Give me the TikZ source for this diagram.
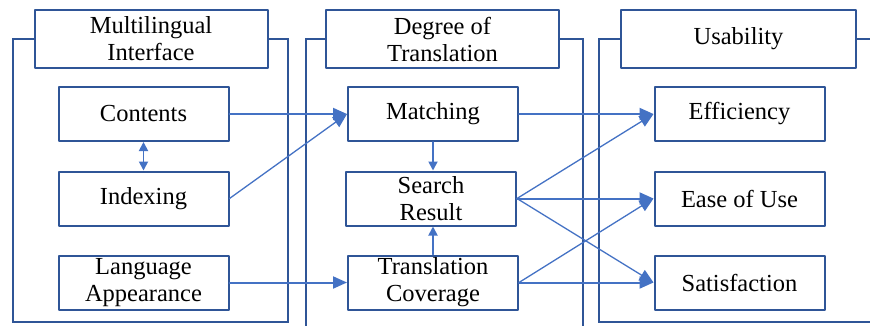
\documentclass[tikz,border=0pt]{standalone}
\usepackage{fontspec}
\setmainfont{Liberation Serif}
\usetikzlibrary{arrows.meta}
\definecolor{frameblue}{RGB}{47,85,151}
\definecolor{linkblue}{RGB}{68,114,196}

\begin{document}
\begin{tikzpicture}[line cap=round,line join=round,>={Triangle[length=14pt,width=12pt]},x=1pt,y=-1pt]
\tikzset{
  box/.style={draw=frameblue,line width=2pt,minimum width=170pt,minimum height=54pt,inner sep=0pt,align=center,font=\fontsize{24.5}{27}\selectfont},
  head/.style={box,minimum width=233pt,minimum height=58pt},
  frame/.style={draw=frameblue,line width=2pt,line cap=butt,line join=miter},
  link/.style={draw=linkblue,line width=2pt,->},
  slant/.style={link,line width=1.3pt},
  short/.style={link,line width=1.8pt,>={Triangle[length=9pt,width=9pt]}}
}
\clip (0,0) rectangle (870,325);

% group titles
\node[head] (ttlml) at (151,39) {Multilingual\\Interface};
\node[head] (ttldt) at (442.5,39) {Degree of\\Translation};
\node[head,minimum width=235pt] (ttlus) at (738.5,39) {Usability};

% group frames
\draw[frame] (ttlml.west) -- (13,39) |- (288,322) |- (ttlml.east);
\draw[frame] (ttldt.west) -- (306,39) -- (306,335);
\draw[frame] (ttldt.east) -- (583,39) -- (583,335);
\draw[frame] (ttlus.west) -- (599,39) |- (880,322);
\draw[frame] (ttlus.east) -- (880,39);

% multilingual interface
\node[box] (cont) at (143.5,114) {Contents};
\node[box] (idx) at (143.5,198.5) {Indexing};
\node[box] (lang) at (143.5,282.5) {Language\\Appearance};

% degree of translation
\node[box] (match) at (433,114) {Matching};
\node[box] (search) at (431,198.5) {Search\\Result};
\node[box] (cover) at (433,282.5) {Translation\\Coverage};

% usability
\node[box] (eff) at (739.5,114) {Efficiency};
\node[box] (ease) at (739.5,198.5) {Ease of Use};
\node[box] (sat) at (739.5,282.5) {Satisfaction};

% links
\draw[short,<->] (cont) -- (idx);
\draw[link] (cont.east) -- (match.west);
\draw[slant] (idx.east) -- (match.west);
\draw[link] (lang.east) -- (cover.west);
\draw[short] (match.south) -- (match.south |- search.north);
\draw[short] (cover.north) -- (cover.north |- search.south);
\draw[link] (match.east) -- (eff.west);
\draw[slant] (search.east) -- (eff.west);
\draw[link] (search.east) -- (ease.west);
\draw[slant] (search.east) -- (sat.west);
\draw[slant] (cover.east) -- (ease.west);
\draw[link] (cover.east) -- (sat.west);

\end{tikzpicture}
\end{document}
